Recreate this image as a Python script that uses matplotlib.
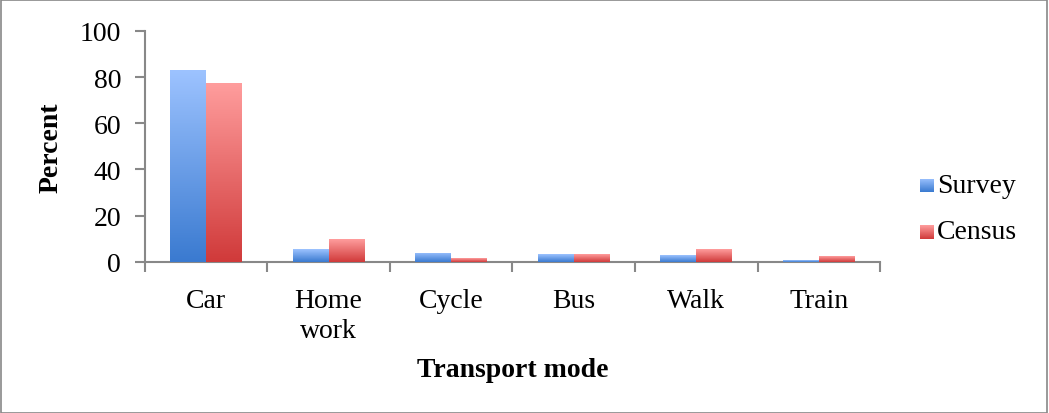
import numpy as np
import matplotlib
matplotlib.use("Agg")
from matplotlib import pyplot as plt
from matplotlib.colors import LinearSegmentedColormap
from matplotlib.patches import Rectangle

# data
modes = ["Car", "Home\nwork", "Cycle", "Bus", "Walk", "Train"]
survey = [83.0, 5.5, 4.0, 3.2, 2.8, 0.8]
census = [77.3, 9.8, 1.5, 3.2, 5.4, 2.4]
series_names = ["Survey", "Census"]

plt.rcParams['font.family'] = ['Liberation Serif', 'DejaVu Serif']
FS = 20

blue_cmap = LinearSegmentedColormap.from_list("b", ["#3a7ad0", "#9dc3ff"])
red_cmap = LinearSegmentedColormap.from_list("r", ["#d03a3a", "#ff9d9d"])


def gradient_bars(ax, bars, cmap):
    grad = np.linspace(0, 1, 256).reshape(-1, 1)
    for b in bars:
        x0, y0 = b.get_x(), b.get_y()
        w, h = b.get_width(), b.get_height()
        im = ax.imshow(grad, extent=(x0, x0 + w, y0, y0 + h), origin="lower",
                       cmap=cmap, aspect="auto", zorder=4)
        im.set_clip_path(b)


fig = plt.figure(figsize=(10.49, 4.14), dpi=100)
ax = fig.add_axes([0.138, 0.365, 0.701, 0.558])

x = np.arange(len(modes))
w = 0.293
b1 = ax.bar(x - w / 2, survey, width=w, color="#6a9fe6", linewidth=0, zorder=3)
b2 = ax.bar(x + w / 2, census, width=w, color="#ec7070", linewidth=0, zorder=3)
gradient_bars(ax, b1, blue_cmap)
gradient_bars(ax, b2, red_cmap)

ax.set_xlim(-0.5, len(modes) - 0.5)
ax.set_ylim(0, 100)
ax.set_yticks(range(0, 101, 20))
ax.set_xticks(x)
ax.set_xticklabels(modes, fontsize=FS, linespacing=1.25)
ax.set_xticks(np.arange(-0.5, len(modes)), minor=True)
ax.tick_params(axis="x", which="major", length=0, pad=19)
ax.tick_params(axis="x", which="minor", length=7, width=1.5, color="#888888", direction="out")
ax.tick_params(axis="y", length=7, width=1.5, color="#888888", labelsize=FS, pad=10)

for s in ["top", "right"]:
    ax.spines[s].set_visible(False)
for s in ["left", "bottom"]:
    ax.spines[s].set_color("#888888")
    ax.spines[s].set_linewidth(1.5)

ax.set_ylabel("Percent", fontsize=FS, fontweight="bold", labelpad=12)
ax.set_xlabel("Transport mode", fontsize=FS, fontweight="bold", labelpad=10)

# legend drawn with gradient squares
for i, (name, cmap) in enumerate(zip(series_names, [blue_cmap, red_cmap])):
    yy = 0.55 - i * 0.112
    lax = fig.add_axes([0.8775, yy - 0.017, 0.0125, 0.032])
    lax.imshow(np.linspace(0, 1, 64).reshape(-1, 1), cmap=cmap, origin="lower", aspect="auto")
    lax.axis("off")
    fig.text(0.893, yy, name, fontsize=FS, va="center", ha="left")

fig.patches.append(Rectangle((0.0005, 0.001), 0.998, 0.997, transform=fig.transFigure,
                             fill=False, edgecolor="#888888", linewidth=1.2))

fig.savefig("out.png", dpi=100)
